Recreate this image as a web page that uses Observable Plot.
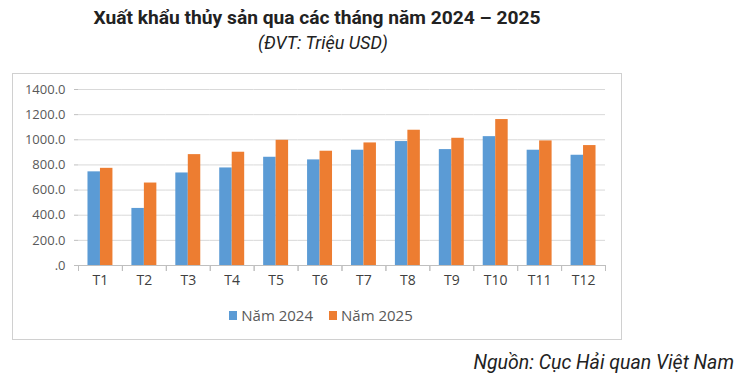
<!DOCTYPE html>
<html>
<head>
<meta charset="utf-8">
<script src="https://cdn.jsdelivr.net/npm/d3@7"></script>
<script src="https://cdn.jsdelivr.net/npm/@observablehq/plot@0.6"></script>
<style>
  html, body { margin: 0; padding: 0; background: #fff; }
  #wrap { position: relative; width: 750px; height: 386px; overflow: hidden; font-family: Roboto, sans-serif; color: #222; }
  #title { position: absolute; left: 0; width: 634px; top: 6px; text-align: center; font-weight: 700; font-size: 19.2px; }
  #subtitle { position: absolute; left: 6px; width: 634px; top: 32px; text-align: center; font-style: italic; font-size: 18px; }
  #frame { position: absolute; left: 12px; top: 73px; width: 608px; height: 265px; border: 1px solid #d0d0d0; }
  #chart { position: absolute; left: 0; top: 0; }
  #legend { position: absolute; left: 0; top: 231px; width: 608px; display: flex; justify-content: center; padding-left: 8px; box-sizing: border-box; font-family: "Open Sans", sans-serif; font-size: 15px; color: #595959; }
  .item { display: flex; align-items: center; margin: 0 8px; }
  .sw { width: 8px; height: 9px; margin-right: 4px; }
  #source { position: absolute; right: 16px; top: 351px; font-style: italic; font-size: 19.5px; }
</style>
</head>
<body>
<div id="wrap">
  <div id="title"></div>
  <div id="subtitle"></div>
  <div id="frame"><div id="chart"></div><div id="legend"></div></div>
  <div id="source"></div>
</div>
<script>
const titleText = "Xuất khẩu thủy sản qua các tháng năm 2024 – 2025";
const subtitleText = "(ĐVT: Triệu USD)";
const sourceText = "Nguồn: Cục Hải quan Việt Nam";
const months = ["T1","T2","T3","T4","T5","T6","T7","T8","T9","T10","T11","T12"];
const series = ["Năm 2024","Năm 2025"];
const values2024 = [745, 454, 736, 776, 861, 840, 917, 986, 922, 1025, 917, 877];
const values2025 = [773, 656, 882, 901, 996, 909, 975, 1076, 1012, 1161, 991, 954];
const colors = ["#5B9BD5","#ED7D31"];
const yTicks = [0, 200, 400, 600, 800, 1000, 1200, 1400];

document.getElementById("title").textContent = titleText;
document.getElementById("subtitle").textContent = subtitleText;
document.getElementById("source").textContent = sourceText;

const data = months.flatMap((m, i) => [
  {month: m, series: series[0], value: values2024[i]},
  {month: m, series: series[1], value: values2025[i]}
]);

const H = 264, MT = 15, MB = 73;
const chart = Plot.plot({
  width: 608,
  height: H,
  marginLeft: 65,
  marginRight: 16,
  marginTop: MT,
  marginBottom: MB,
  style: {fontFamily: "'Open Sans', sans-serif", fontSize: "13px", color: "#595959", background: "transparent"},
  fx: {domain: months, padding: 0, round: false, label: null},
  x: {domain: series, paddingInner: 0, paddingOuter: 0.76, round: false, axis: null},
  y: {domain: [0, 1400], label: null},
  color: {domain: series, range: colors},
  marks: [
    Plot.gridY(yTicks, {stroke: "#d9d9d9", strokeOpacity: 1}),
    Plot.barY(data, {fx: "month", x: "series", y: "value", fill: "series"}),
    Plot.ruleY([0], {stroke: "#bfbfbf"}),
    Plot.frame({anchor: "left", stroke: "#bfbfbf", insetTop: H - MT - MB, insetBottom: -5}),
    Plot.frame({anchor: "right", stroke: "#bfbfbf", insetTop: H - MT - MB, insetBottom: -5}),
    Plot.axisY(yTicks, {
      tickSize: 4, tickPadding: 9, stroke: "#bfbfbf", fill: "#595959", line: true, label: null,
      tickFormat: d => d === 0 ? ".0" : d.toFixed(1)
    }),
    Plot.axisFx({anchor: "bottom", tickSize: 0, tickPadding: 10, fill: "#404040", fontSize: 14, label: null})
  ]
});
document.getElementById("chart").appendChild(chart);

const legend = document.getElementById("legend");
series.forEach((s, i) => {
  const it = document.createElement("div");
  it.className = "item";
  const sw = document.createElement("div");
  sw.className = "sw";
  sw.style.background = colors[i];
  const tx = document.createElement("span");
  tx.textContent = s;
  it.appendChild(sw);
  it.appendChild(tx);
  legend.appendChild(it);
});
</script>
</body>
</html>
